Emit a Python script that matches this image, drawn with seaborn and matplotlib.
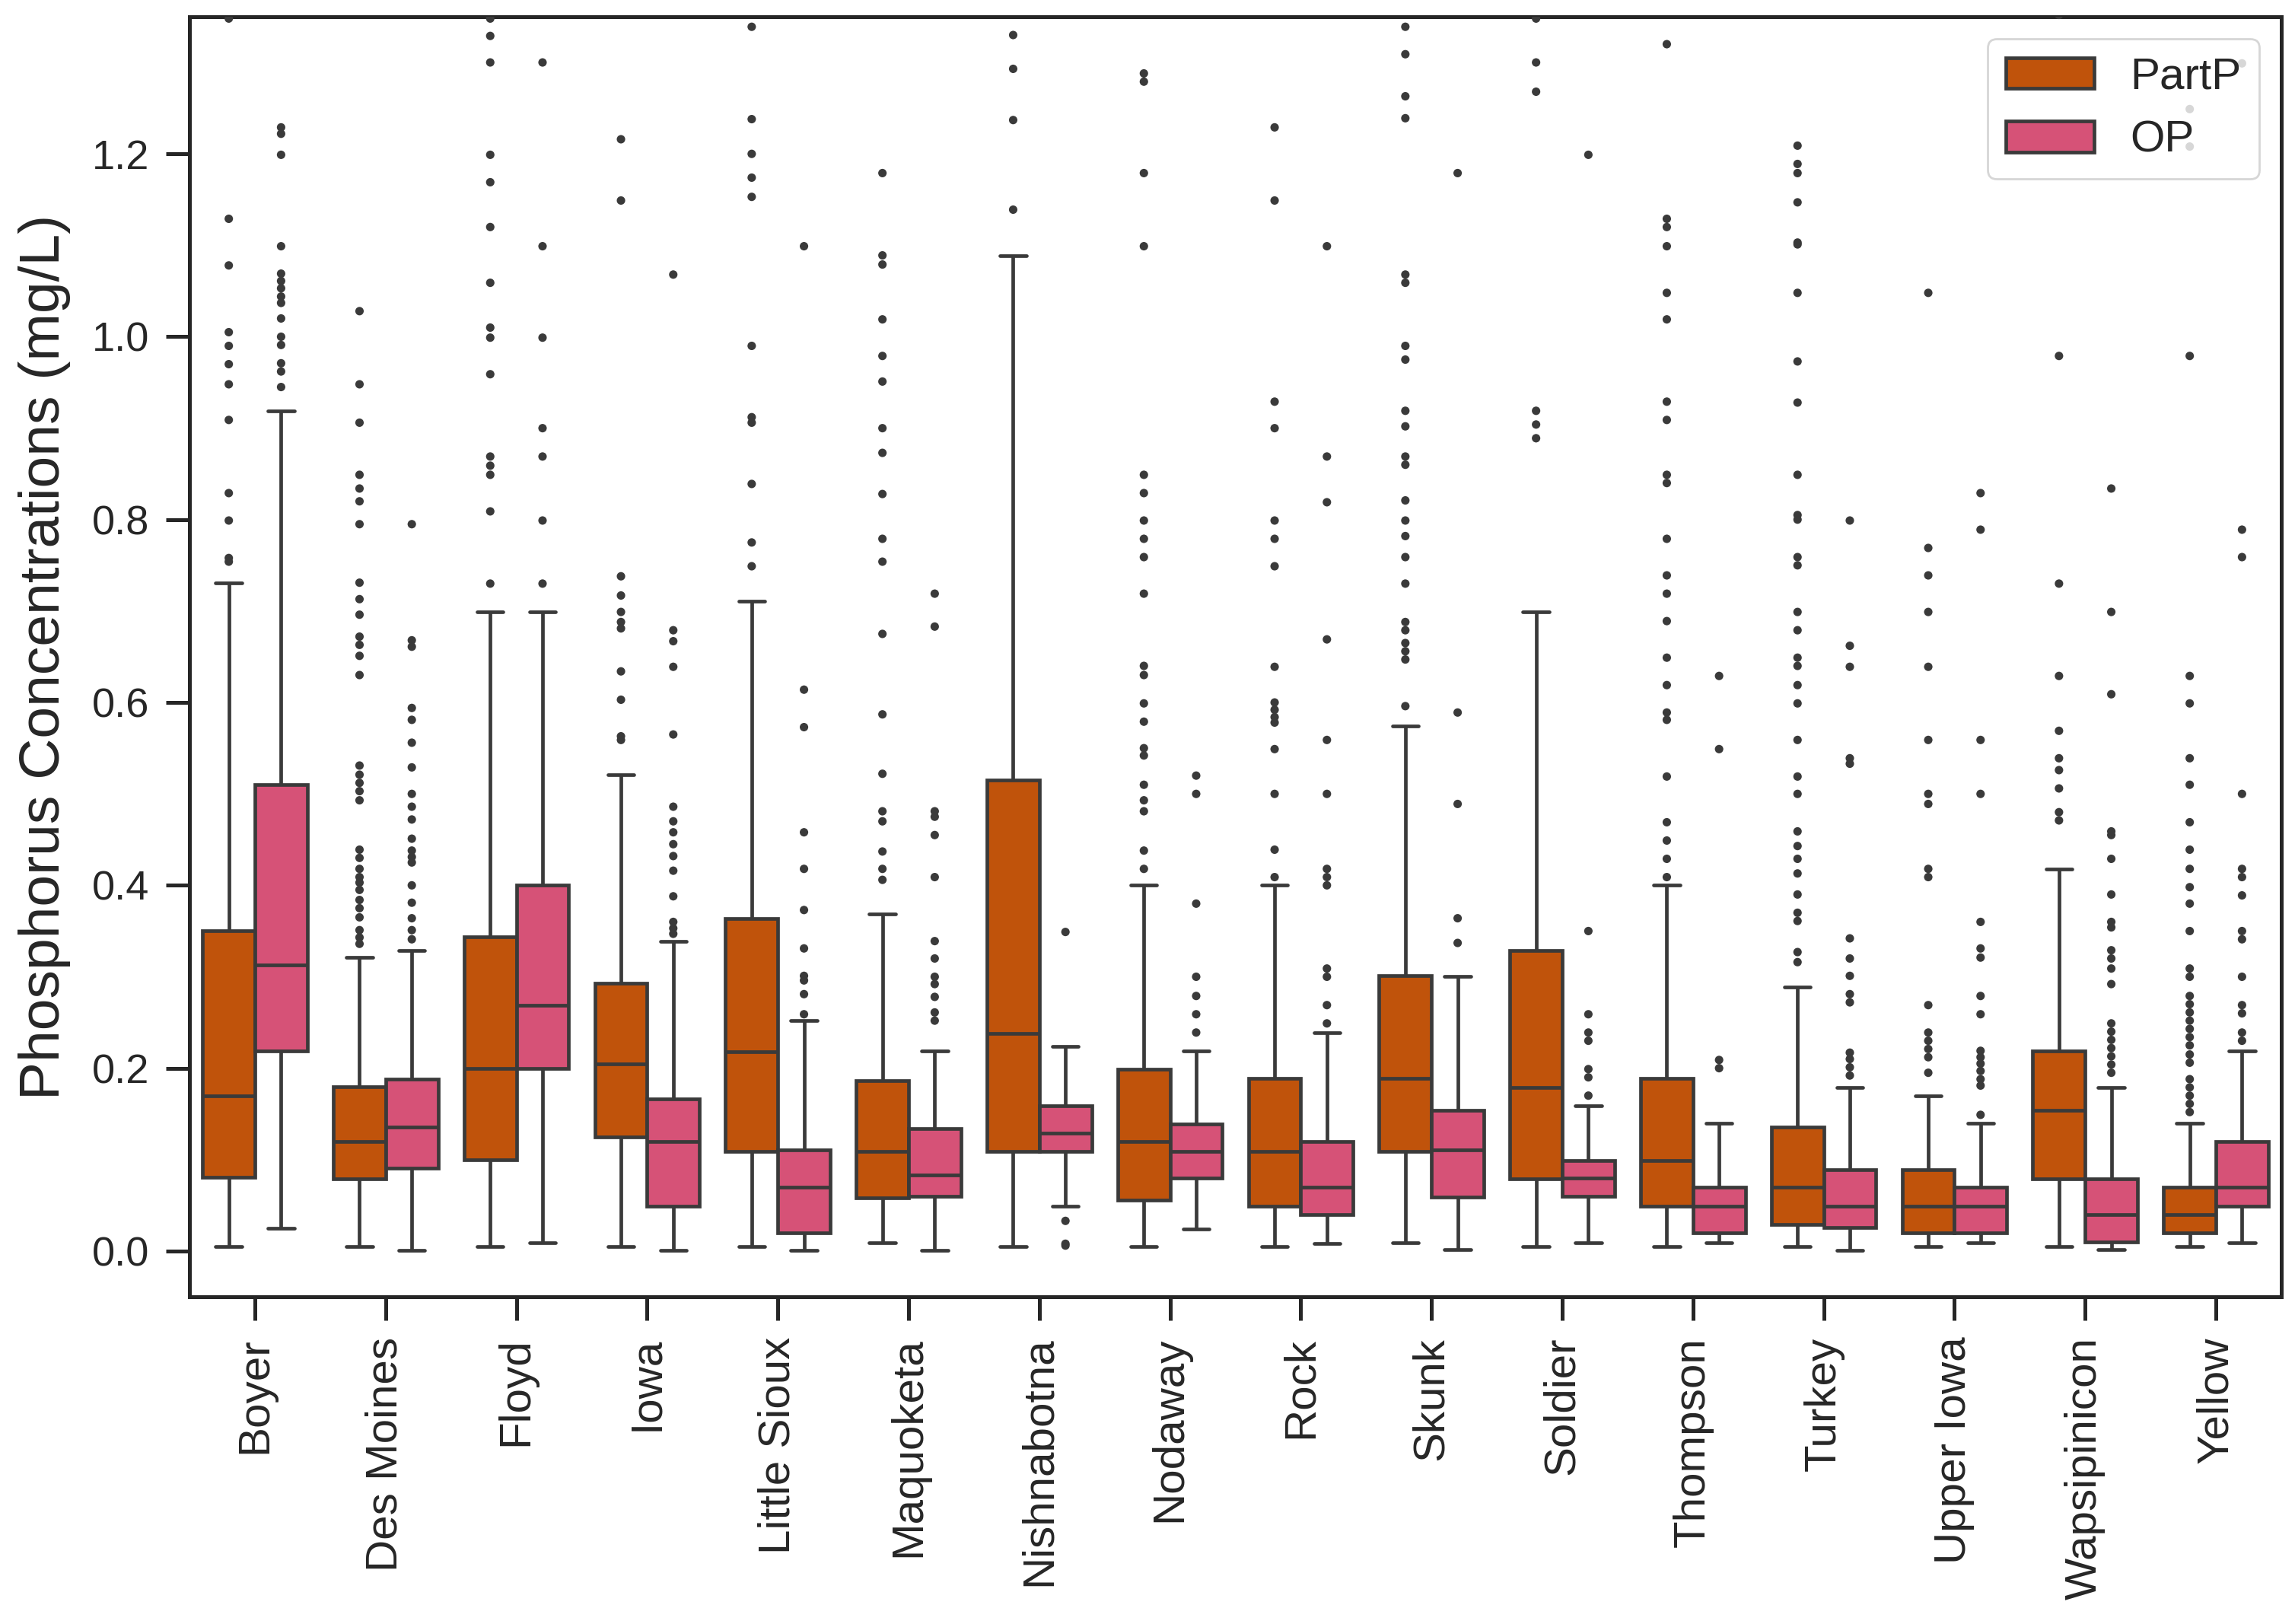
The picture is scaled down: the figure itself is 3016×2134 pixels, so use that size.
import pandas as pd
import matplotlib
matplotlib.use("Agg")
import matplotlib.pyplot as plt
import seaborn as sns

rivers = ["Boyer", "Des Moines", "Floyd", "Iowa", "Little Sioux", "Maquoketa",
          "Nishnabotna", "Nodaway", "Rock", "Skunk", "Soldier", "Thompson",
          "Turkey", "Upper Iowa", "Wapsipinicon", "Yellow"]
params = ["PartP", "OP"]

# box summaries (mg/L): whisker low, Q1, median, Q3, whisker high
partp_lo = [.005, .005, .005, .005, .005, .009, .005, .005, .005, .009, .005, .005, .005, .005, .005, .005]
partp_q1 = [.081, .079, .100, .125, .109, .058, .109, .056, .049, .109, .079, .049, .029, .020, .079, .020]
partp_med = [.170, .120, .200, .205, .218, .109, .238, .120, .109, .189, .179, .099, .070, .049, .154, .040]
partp_q3 = [.350, .180, .344, .293, .364, .186, .515, .199, .189, .301, .329, .189, .136, .089, .219, .070]
partp_hi = [.731, .321, .699, .521, .711, .369, 1.089, .400, .400, .574, .699, .400, .289, .170, .418, .140]

op_lo = [.025, .001, .009, .001, .001, .001, .049, .024, .008, .002, .009, .009, .001, .009, .002, .009]
op_q1 = [.219, .091, .200, .049, .020, .060, .109, .080, .040, .059, .060, .020, .026, .020, .010, .049]
op_med = [.313, .136, .269, .120, .070, .083, .129, .109, .070, .111, .080, .049, .049, .049, .040, .070]
op_q3 = [.510, .188, .400, .166, .111, .134, .159, .139, .120, .154, .099, .070, .089, .070, .079, .120]
op_hi = [.919, .329, .699, .339, .252, .219, .224, .219, .239, .300, .159, .140, .179, .140, .179, .219]

# outliers, one list per river
partp_out = [
    [1.348, 1.129, 1.078, 1.005, 0.990, 0.970, 0.948, 0.909, 0.829, 0.799, 0.758, 0.754],
    [1.028, 0.948, 0.906, 0.849, 0.834, 0.820, 0.795, 0.731, 0.713, 0.696, 0.672, 0.663, 0.651, 0.630,
     0.531, 0.521, 0.512, 0.503, 0.493, 0.439, 0.430, 0.418, 0.409, 0.403, 0.395, 0.384, 0.375, 0.365,
     0.351, 0.343, 0.336],
    [1.348, 1.329, 1.300, 1.199, 1.169, 1.120, 1.059, 1.010, 0.999, 0.959, 0.869, 0.859, 0.849, 0.809, 0.730],
    [1.216, 1.149, 0.738, 0.717, 0.699, 0.688, 0.681, 0.634, 0.603, 0.563, 0.559],
    [1.339, 1.238, 1.200, 1.174, 1.153, 0.990, 0.912, 0.906, 0.839, 0.775, 0.749],
    [1.179, 1.089, 1.079, 1.019, 0.979, 0.951, 0.900, 0.873, 0.828, 0.779, 0.754, 0.675, 0.587, 0.522,
     0.481, 0.470, 0.437, 0.418, 0.406],
    [1.330, 1.293, 1.237, 1.139],
    [1.288, 1.279, 1.179, 1.099, 0.849, 0.829, 0.799, 0.779, 0.759, 0.719, 0.640, 0.630, 0.599, 0.579,
     0.550, 0.542, 0.510, 0.493, 0.481, 0.438, 0.418],
    [1.229, 1.149, 0.929, 0.900, 0.799, 0.779, 0.749, 0.639, 0.600, 0.592, 0.584, 0.578, 0.549, 0.500,
     0.439, 0.409],
    [1.339, 1.309, 1.263, 1.239, 1.068, 1.059, 0.990, 0.975, 0.919, 0.902, 0.869, 0.860, 0.821, 0.799,
     0.782, 0.759, 0.730, 0.688, 0.679, 0.665, 0.656, 0.647, 0.596],
    [1.348, 1.300, 1.268, 0.919, 0.904, 0.889],
    [1.320, 1.129, 1.120, 1.099, 1.048, 1.019, 0.929, 0.909, 0.849, 0.840, 0.779, 0.739, 0.719, 0.689,
     0.649, 0.619, 0.589, 0.581, 0.519, 0.469, 0.449, 0.429, 0.409],
    [1.209, 1.189, 1.179, 1.147, 1.103, 1.101, 1.048, 0.973, 0.928, 0.849, 0.805, 0.800, 0.759, 0.750,
     0.699, 0.679, 0.649, 0.640, 0.619, 0.599, 0.559, 0.519, 0.500, 0.459, 0.443, 0.429, 0.413, 0.390,
     0.370, 0.361, 0.327, 0.316],
    [1.048, 0.769, 0.739, 0.699, 0.639, 0.559, 0.500, 0.489, 0.418, 0.409, 0.269, 0.239, 0.230, 0.221,
     0.212, 0.195],
    [1.352, 0.979, 0.730, 0.629, 0.569, 0.539, 0.526, 0.506, 0.480, 0.471],
    [1.249, 1.208, 0.979, 0.629, 0.599, 0.539, 0.510, 0.469, 0.439, 0.418, 0.398, 0.380, 0.350, 0.309,
     0.300, 0.279, 0.270, 0.261, 0.252, 0.243, 0.234, 0.225, 0.215, 0.206, 0.188, 0.179, 0.170, 0.161,
     0.152],
]
op_out = [
    [1.229, 1.222, 1.199, 1.099, 1.069, 1.061, 1.053, 1.044, 1.037, 1.020, 1.000, 0.991, 0.971, 0.962, 0.945],
    [0.795, 0.668, 0.661, 0.594, 0.581, 0.556, 0.529, 0.500, 0.486, 0.472, 0.451, 0.438, 0.431, 0.425,
     0.400, 0.381, 0.364, 0.351, 0.341],
    [1.300, 1.099, 0.999, 0.900, 0.869, 0.799, 0.730],
    [1.068, 0.679, 0.667, 0.639, 0.565, 0.486, 0.470, 0.458, 0.445, 0.432, 0.416, 0.388, 0.360, 0.353, 0.347],
    [1.099, 0.614, 0.573, 0.458, 0.418, 0.373, 0.331, 0.301, 0.296, 0.281, 0.259],
    [0.719, 0.683, 0.481, 0.475, 0.455, 0.409, 0.339, 0.320, 0.300, 0.292, 0.278, 0.261, 0.252],
    [0.349, 0.033, 0.008, 0.006],
    [0.520, 0.500, 0.380, 0.300, 0.279, 0.259, 0.239],
    [1.099, 0.869, 0.819, 0.669, 0.559, 0.500, 0.418, 0.409, 0.400, 0.309, 0.300, 0.269, 0.249],
    [1.179, 0.589, 0.489, 0.364, 0.337],
    [1.199, 0.350, 0.259, 0.239, 0.230, 0.199, 0.190, 0.170],
    [0.629, 0.549, 0.209, 0.200],
    [0.799, 0.662, 0.639, 0.539, 0.533, 0.342, 0.320, 0.301, 0.281, 0.272, 0.217, 0.210, 0.201, 0.192],
    [0.829, 0.789, 0.559, 0.500, 0.360, 0.331, 0.321, 0.279, 0.259, 0.219, 0.212, 0.205, 0.197, 0.188,
     0.181, 0.149],
    [0.834, 0.699, 0.609, 0.459, 0.455, 0.429, 0.390, 0.360, 0.354, 0.329, 0.320, 0.309, 0.292, 0.249,
     0.240, 0.231, 0.222, 0.213, 0.204, 0.195],
    [1.299, 0.789, 0.759, 0.500, 0.418, 0.409, 0.389, 0.350, 0.341, 0.300, 0.269, 0.260, 0.239, 0.230],
]

colors = {"PartP": "#c0530b", "OP": "#d65277"}
line_color = "#3a3a3a"

# long-form table: box values reproduce each read quartile exactly,
# whiskers span min..max, outliers are drawn separately
box_rows = []
out_rows = []
stats = {"PartP": (partp_lo, partp_q1, partp_med, partp_q3, partp_hi, partp_out),
         "OP": (op_lo, op_q1, op_med, op_q3, op_hi, op_out)}
for p in params:
    lo, q1, med, q3, hi, out = stats[p]
    for i, r in enumerate(rivers):
        vals = [lo[i]] + [q1[i]] * 3 + [med[i]] * 3 + [q3[i]] * 3 + [hi[i]]
        box_rows += [(r, p, v) for v in vals]
        out_rows += [(r, p, v) for v in out[i]]
box_df = pd.DataFrame(box_rows, columns=["river", "param", "conc"])
out_df = pd.DataFrame(out_rows, columns=["river", "param", "conc"])

sns.set_theme(style="ticks")
plt.rcParams["font.family"] = ["Liberation Sans", "DejaVu Sans"]

fig, ax = plt.subplots(figsize=(15.08, 10.67), dpi=200)
fig.subplots_adjust(left=0.0826, right=0.994, top=0.9897, bottom=0.2015)

sns.boxplot(data=box_df, x="river", y="conc", hue="param", order=rivers,
            hue_order=params, palette=colors, whis=(0, 100), showfliers=False,
            linecolor=line_color, linewidth=1.7, saturation=1, ax=ax)
sns.stripplot(data=out_df, x="river", y="conc", hue="param", order=rivers,
              hue_order=params, palette={p: line_color for p in params},
              dodge=True, jitter=False, size=4, linewidth=0, legend=False, ax=ax)

ax.set_ylim(-0.05, 1.35)
ax.set_yticks([0.0, 0.2, 0.4, 0.6, 0.8, 1.0, 1.2])
ax.set_yticklabels([f"{t:.1f}" for t in ax.get_yticks()])
ax.set_xlabel("")
ax.set_ylabel("Phosphorus Concentrations (mg/L)", fontsize=27, labelpad=10)
ax.tick_params(axis="both", length=11, width=1.8, pad=8, color="#262626")
ax.tick_params(axis="x", labelsize=21)
ax.tick_params(axis="y", labelsize=19.5)
plt.xticks(rotation=90)
for s in ax.spines.values():
    s.set_linewidth(1.8)
    s.set_color("#262626")

old = ax.get_legend()
handles = old.legend_handles
labels = [t.get_text() for t in old.get_texts()]
old.remove()
ax.legend(handles, labels, loc="upper right", fontsize=21)

plt.savefig("out.png", dpi=200)
plt.close()
